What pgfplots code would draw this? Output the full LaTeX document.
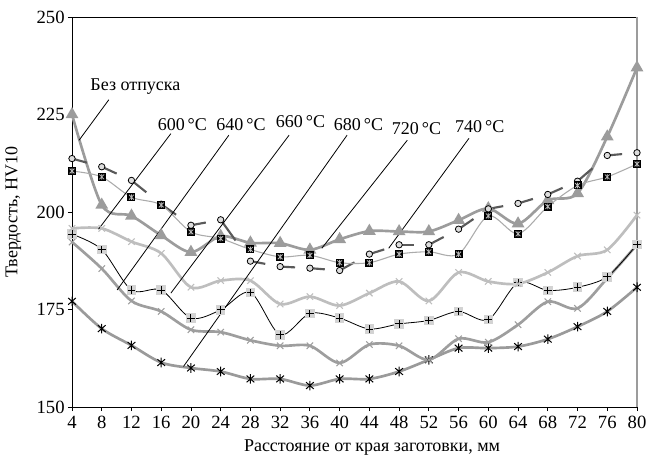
\documentclass[border=0pt]{standalone}
\usepackage{fontspec}
\setmainfont{Liberation Serif}
\usepackage{pgfplots}
\pgfplotsset{compat=1.18}
\usepackage{pgfplotstable}

\definecolor{trigray}{HTML}{9C9C9C}
\definecolor{lightx}{HTML}{BEBEBE}
\definecolor{midx}{HTML}{9E9E9E}
\definecolor{botline}{HTML}{9A9A9A}
\definecolor{dashc}{HTML}{5A5A5A}
\definecolor{sqline}{HTML}{ABABAB}
\definecolor{sqcross}{HTML}{B8B8B8}
\definecolor{plusbg}{HTML}{D3D3D3}
\definecolor{circfill}{HTML}{DDDDDD}

% black square with a grey star inside
\pgfdeclareplotmark{blacksq}{%
  \pgfpathrectangle{\pgfpoint{-\pgfplotmarksize}{-\pgfplotmarksize}}{\pgfpoint{2\pgfplotmarksize}{2\pgfplotmarksize}}%
  \pgfsetfillcolor{black}\pgfusepath{fill}%
  \pgfsetstrokecolor{sqcross}\pgfsetlinewidth{0.6pt}%
  \pgfpathmoveto{\pgfpoint{-0.6\pgfplotmarksize}{-0.6\pgfplotmarksize}}%
  \pgfpathlineto{\pgfpoint{0.6\pgfplotmarksize}{0.6\pgfplotmarksize}}%
  \pgfpathmoveto{\pgfpoint{-0.6\pgfplotmarksize}{0.6\pgfplotmarksize}}%
  \pgfpathlineto{\pgfpoint{0.6\pgfplotmarksize}{-0.6\pgfplotmarksize}}%
  \pgfpathmoveto{\pgfpoint{0pt}{-0.7\pgfplotmarksize}}%
  \pgfpathlineto{\pgfpoint{0pt}{0.7\pgfplotmarksize}}%
  \pgfusepath{stroke}}

% light grey square with a black plus
\pgfdeclareplotmark{plussq}{%
  \pgfpathrectangle{\pgfpoint{-\pgfplotmarksize}{-\pgfplotmarksize}}{\pgfpoint{2\pgfplotmarksize}{2\pgfplotmarksize}}%
  \pgfsetfillcolor{plusbg}\pgfusepath{fill}%
  \pgfsetstrokecolor{black}\pgfsetlinewidth{0.75pt}%
  \pgfpathmoveto{\pgfpoint{-0.8\pgfplotmarksize}{0pt}}%
  \pgfpathlineto{\pgfpoint{0.8\pgfplotmarksize}{0pt}}%
  \pgfpathmoveto{\pgfpoint{0pt}{-0.8\pgfplotmarksize}}%
  \pgfpathlineto{\pgfpoint{0pt}{0.8\pgfplotmarksize}}%
  \pgfusepath{stroke}}

% black six-armed star
\pgfdeclareplotmark{blackstar}{%
  \pgfsetstrokecolor{black}\pgfsetlinewidth{0.75pt}%
  \pgfpathmoveto{\pgfpoint{-0.8\pgfplotmarksize}{-0.7\pgfplotmarksize}}%
  \pgfpathlineto{\pgfpoint{0.8\pgfplotmarksize}{0.7\pgfplotmarksize}}%
  \pgfpathmoveto{\pgfpoint{-0.8\pgfplotmarksize}{0.7\pgfplotmarksize}}%
  \pgfpathlineto{\pgfpoint{0.8\pgfplotmarksize}{-0.7\pgfplotmarksize}}%
  \pgfpathmoveto{\pgfpoint{0pt}{-\pgfplotmarksize}}%
  \pgfpathlineto{\pgfpoint{0pt}{\pgfplotmarksize}}%
  \pgfusepath{stroke}}

% hardness HV10 versus distance from the edge, mm
\pgfplotstableread{
x  t0    t600  t640  t660  t680  t720  t740
4  225   195.8 192.3 194.3 177.1 210.5 213.7
8  201.8 195.8 185.5 190.4 170.1 209   211.6
12 199   192.4 177.2 180   165.8 203.8 208.1
16 194   189.4 174.5 180   161.4 201.8 202
20 189.7 180.7 169.8 172.8 160   194.9 196.6
24 193.8 182.4 169.2 174.9 159.1 193.2 198
28 192.1 182.4 167.1 179.4 157.2 190.4 187.4
32 192   176.4 165.7 168.5 157.2 188.5 186
36 190.3 178.3 165.7 174   155.5 188.9 185.6
40 193   176   161.3 172.8 157.2 187   185
44 195.1 179.2 166   170   157.2 187   189.2
48 195   182.2 165.7 171.3 159.1 189.2 191.6
52 195   177.2 162.1 172.2 162.1 189.8 191.6
56 197.9 184.5 167.5 174.5 165.1 189.2 195.6
60 200.9 182.2 166.6 172.4 165.1 199   200.8
64 197   181.6 171.1 181.9 165.5 194.4 202.2
68 203   184.5 177   179.9 167.4 201.4 204.5
72 204.8 188.7 175.3 180.7 170.6 206.8 207.9
76 219.3 190.3 183   183.4 174.5 209   214.5
80 237   199.2 191.6 191.7 180.7 212.3 215.2
}\hardness

% dash pieces of the 740 °C curve: each one runs from a point halfway to the next
\pgfplotstableread{
x  y     u  v
4  213.7 2  -1.05
8  211.6 2  -1.75
12 208.1 2  -3.05
16 202   2  -2.7
20 196.6 2   0.7
24 198   2  -5.3
28 187.4 2  -0.7
32 186   2  -0.2
36 185.6 2  -0.3
40 185   2   2.1
44 189.2 2   1.2
48 191.6 2   0
52 191.6 2   2.0
56 195.6 2   2.6
60 200.8 2   0.7
64 202.2 2   1.15
68 204.5 2   1.7
72 207.9 2   3.3
76 214.5 2   0.35
}\dashes

\begin{document}
\begin{tikzpicture}
\begin{axis}[
  scale only axis,
  width=423.75pt, height=292.5pt,
  xmin=4, xmax=80, ymin=150, ymax=250,
  xtick={4,8,...,80},
  ytick={150,175,200,225,250},
  axis x line*=bottom, axis y line*=left,
  axis line style={line width=0.7pt, black},
  tick align=outside,
  major tick length=3pt,
  tick style={black, line width=0.6pt},
  ticklabel style={font=\fontsize{14}{16}\selectfont},
  yticklabel style={xshift=1pt},
  /pgf/number format/assume math mode=true,
  clip=false,
  xlabel={Расстояние от края заготовки, мм},
  ylabel={Твердость, HV10},
  every axis x label/.style={at={(axis description cs:0.531,-0.103)}, anchor=center,
    font=\fontsize{13.5}{16}\selectfont},
  every axis y label/.style={at={(axis description cs:-0.104,0.5)}, rotate=90, anchor=center,
    font=\fontsize{13.5}{16}\selectfont},
  every axis plot/.append style={smooth, tension=0.5},
]
\coordinate (bbsw) at (rel axis cs:0,0);
\coordinate (bbne) at (rel axis cs:1,1);

% frame: black top edge, grey right edge
\draw[line width=0.7pt, black] (rel axis cs:0,1) -- (rel axis cs:1,1);
\draw[line width=1.2pt, trigray] (rel axis cs:1,0) -- (rel axis cs:1,1);

% 680 °C
\addplot[botline, line width=2pt, mark=blackstar, mark size=3.6pt] table[x=x, y=t680] {\hardness};
% 640 °C
\addplot[midx, line width=2pt, mark=x, mark size=3.4pt, mark options={line width=0.8pt}] table[x=x, y=t640] {\hardness};
% 660 °C
\addplot[black, line width=0.6pt, mark=plussq, mark size=3.6pt] table[x=x, y=t660] {\hardness};
% 600 °C
\addplot[lightx, line width=2pt, mark=x, mark size=3.4pt, mark options={line width=0.8pt}] table[x=x, y=t600] {\hardness};
% without tempering
\addplot[trigray, line width=2pt, mark=triangle*, mark size=3.6pt, mark options={fill=trigray, draw=trigray}] table[x=x, y=t0] {\hardness};
% 740 °C
\addplot[dashc, line width=1.6pt, no markers, -, quiver={u=\thisrow{u}, v=\thisrow{v}}] table[x=x, y=y] {\dashes};
\addplot[only marks, mark=*, mark size=2.4pt, mark options={fill=circfill, draw=black, line width=0.6pt}] table[x=x, y=t740] {\hardness};
% 720 °C
\addplot[sqline, line width=0.8pt, mark=blacksq, mark size=3pt] table[x=x, y=t720] {\hardness};

% callouts
\begin{scope}[every node/.style={font=\fontsize{13.5}{16}\selectfont, anchor=west, inner sep=0pt}]
\draw[line width=0.6pt] (axis cs:8.96,228.8) -- (axis cs:4.95,218.4);
\node at (axis cs:6.45,232.1) {Без отпуска};
\draw[line width=0.6pt] (axis cs:17.3,220.1) -- (axis cs:7.57,195.6);
\node at (axis cs:15.5,222.3) {600\,°C};
\draw[line width=0.6pt] (axis cs:25.1,219.7) -- (axis cs:10.07,180.0);
\node at (axis cs:23.4,222.3) {640\,°C};
\draw[line width=0.6pt] (axis cs:33.2,219.7) -- (axis cs:17.3,179.2);
\node at (axis cs:31.4,223.1) {660\,°C};
\draw[line width=0.6pt] (axis cs:41.0,219.7) -- (axis cs:19.0,160.4);
\node at (axis cs:39.2,222.3) {680\,°C};
\draw[line width=0.6pt] (axis cs:49.1,218.4) -- (axis cs:37.6,190.7);
\node at (axis cs:47.0,221.4) {720\,°C};
\draw[line width=0.6pt] (axis cs:57.4,218.9) -- (axis cs:46.6,190.7);
\node at (axis cs:55.5,222.0) {740\,°C};
\end{scope}
\end{axis}
\pgfresetboundingbox
\path[use as bounding box] ([shift={(-54pt,-39.75pt)}]bbsw) rectangle ([shift={(8.25pt,12.75pt)}]bbne);
\end{tikzpicture}
\end{document}
